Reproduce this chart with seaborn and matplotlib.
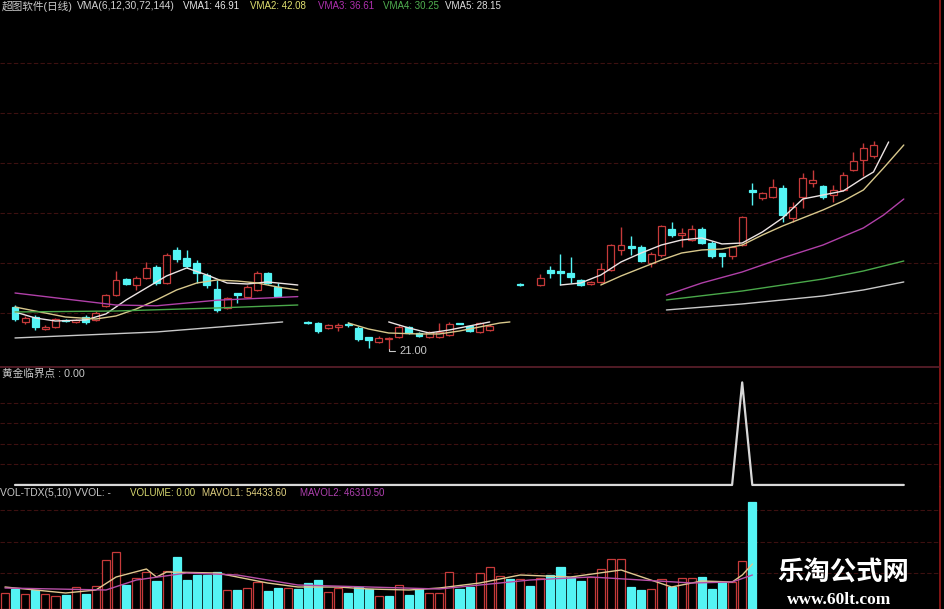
import numpy as np
import pandas as pd
import matplotlib
matplotlib.use("Agg")
import matplotlib.pyplot as plt
import seaborn as sns

nan = np.nan

# ---- price panel: candles (index = trading day slot on the chart) ----
candle_idx = list(range(0, 27)) + list(range(29, 48)) + [50] + list(range(52, 86))

opens = [26.25, 24.375, 25.0, 23.5, 23.75, 24.625, 24.375, 25.0, 24.625, 26.375,
         27.75, 29.75, 29.0, 29.875, 31.25, 29.25, 33.375, 32.375, 31.75, 30.25,
         28.5, 26.125, 28.0, 27.5, 28.375, 30.5, 28.75,
         24.375, 24.25, 23.625, 23.75, 24.125, 23.625, 22.5, 21.875, 22.3, 22.5,
         23.75, 23.0, 22.5, 22.5, 22.75, 24.25, 23.875, 23.125, 23.375,
         29.125,
         29.0, 30.875, 30.75, 30.5, 29.625, 29.125, 29.375, 30.875, 33.375, 33.875,
         33.75, 31.75, 32.75, 36.0, 35.25, 34.625, 36.0, 34.25, 33.0, 32.625,
         34.0, 40.875, 39.875, 40.0, 41.125, 37.375, 40.0, 41.75, 41.375, 40.25,
         40.875, 43.375, 44.625, 45.125]
highs = [26.5, 25.125, 25.25, 24.0, 24.875, 24.75, 24.75, 25.25, 25.75, 27.875,
         30.75, 29.875, 30.125, 31.875, 31.5, 33.0, 33.75, 33.375, 32.125, 30.5,
         29.625, 27.5, 28.0, 29.0, 30.75, 30.625, 29.25,
         24.5, 24.375, 24.125, 24.25, 24.375, 23.875, 22.5, 22.625, 22.5, 24.0,
         23.875, 23.125, 23.25, 24.25, 24.375, 24.3, 24.0, 24.375, 24.125,
         29.2,
         30.375, 31.375, 32.875, 32.5, 29.75, 29.5, 31.75, 34.125, 36.25, 35.125,
         34.0, 33.125, 36.5, 36.875, 36.125, 36.5, 36.25, 34.5, 33.0, 33.875,
         37.625, 41.75, 40.625, 42.25, 41.5, 39.375, 43.0, 43.375, 41.5, 41.5,
         43.125, 45.625, 46.75, 47.0]
lows = [24.5, 24.125, 23.375, 23.375, 23.625, 24.375, 24.25, 24.125, 24.5, 26.25,
        27.625, 29.0, 28.375, 29.75, 29.0, 29.125, 31.875, 31.125, 29.25, 28.625,
        25.625, 26.0, 26.75, 27.375, 28.25, 29.125, 27.5,
        24.125, 23.0, 23.5, 23.25, 23.75, 22.0, 21.125, 21.75, 21.0, 22.375,
        22.875, 22.5, 22.375, 22.375, 22.625, 24.1, 23.125, 23.0, 23.25,
        28.875,
        28.875, 29.875, 29.0, 29.25, 28.875, 29.0, 29.25, 30.75, 32.75, 32.75,
        31.875, 31.25, 32.5, 35.0, 33.75, 34.5, 34.125, 32.375, 31.25, 32.25,
        33.875, 39.0, 39.625, 39.875, 36.875, 36.875, 38.625, 41.25, 39.75, 39.375,
        40.75, 43.25, 42.625, 44.875]
closes = [24.75, 24.875, 23.75, 23.75, 24.75, 24.5, 24.625, 24.375, 25.5, 27.75,
          29.625, 29.125, 29.875, 31.125, 29.25, 32.75, 32.25, 31.375, 30.5, 29.0,
          25.875, 27.375, 27.75, 28.75, 30.5, 29.25, 27.625,
          24.25, 23.25, 24.0, 24.0, 24.0, 22.25, 22.125, 22.375, 22.375, 23.75,
          23.0, 22.625, 23.125, 23.125, 24.125, 24.125, 23.25, 24.25, 23.875,
          29.0,
          29.875, 30.5, 30.5, 30.0, 29.0, 29.375, 31.0, 34.0, 34.0, 33.625,
          32.0, 32.875, 36.375, 35.25, 35.5, 36.0, 34.25, 32.625, 32.625, 33.75,
          37.5, 40.625, 40.5, 41.25, 37.75, 38.75, 42.375, 42.125, 40.0, 40.875,
          42.75, 44.5, 46.125, 46.5]

# moving averages (NaN splits the line into pieces)
ma1_i = [0, 2, 4, 7, 9, 11, 13, 15, 17, 19, 21, 23, 25, 28, nan,
         37, 39, 41, 43, 45, 47, nan,
         54, 56, 58, 60, 62, 64, 66, 68, 70, 72, 74, 76, 78, 80, 82, 84, 85, 86.5]
ma1_v = [25.63, 24.88, 24.5, 24.63, 25.38, 27.13, 28.63, 30.13, 31.13, 30.25, 29.25, 29.13, 29.38, 29.0, nan,
         24.38, 23.63, 23.0, 23.38, 23.88, 24.38, nan,
         29.0, 29.25, 30.25, 31.88, 33.0, 34.0, 34.63, 34.88, 34.13, 34.25, 35.63, 37.38, 39.75, 40.25, 40.75, 42.38, 43.13, 46.88]
ma2_i = [0, 3, 5, 8, 10, 12, 14, 16, 18, 20, 22, 24, 26, 28, nan,
         33, 35, 37, 40, 42, 44, 46, 48, 49, nan,
         58, 60, 62, 64, 66, 68, 70, 72, 74, 76, 78, 80, 82, 84, 86, 88]
ma2_v = [26.25, 25.5, 25.0, 24.75, 25.13, 26.0, 27.13, 28.38, 29.25, 29.63, 29.5, 29.25, 28.75, 28.38, nan,
         24.25, 23.5, 23.0, 22.88, 22.88, 23.25, 23.75, 24.25, 24.38, nan,
         29.0, 30.13, 31.13, 32.13, 33.0, 33.38, 33.5, 34.0, 35.25, 36.38, 37.38, 38.38, 39.5, 40.88, 43.63, 46.5]
ma3_i = [0, 10, 14, 20, 28, nan, 64.5, 68, 72, 76, 80, 84, 86, 88]
ma3_v = [28.0, 26.5, 26.4, 27.1, 27.55, nan, 27.75, 29.25, 30.63, 32.38, 34.0, 36.13, 37.75, 39.75]
ma4_i = [0, 10, 20, 28, nan, 64.5, 72, 80, 84, 88]
ma4_v = [25.63, 25.75, 26.13, 26.5, nan, 27.13, 28.25, 29.75, 30.75, 32.0]
ma5_i = [0, 14, 26.5, nan, 64.5, 72, 80, 84, 88]
ma5_v = [22.38, 23.13, 24.38, nan, 25.88, 26.63, 27.63, 28.38, 29.38]

price_grid = [25.5, 31.75, 38.0, 44.25, 50.5, 56.75]
low_label = "21.00"
low_idx = 37

# ---- indicator panel ----
sig_i = [0, 71, 72, 73, 88]
sig_v = [0, 0, 1, 0, 0]
sig_grid = [0.2, 0.4, 0.6, 0.8]

# ---- volume panel ----
vol = [32000, 40000, 30000, 38000, 30000, 26000, 28000, 44000, 30000, 46000,
       98000, 114000, 48000, 62000, 74000, 56000, 76000, 104000, 58000, 68000,
       68000, 74000, 38000, 38000, 42000, 54000, 36000, 42000, 42000, 40000,
       52000, 58000, 34000, 42000, 32000, 44000, 40000, 26000, 26000, 48000,
       28000, 40000, 32000, 32000, 74000, 40000, 44000, 72000, 84000, 66000,
       60000, 60000, 46000, 62000, 68000, 84000, 64000, 56000, 64000, 80000,
       100000, 100000, 44000, 38000, 40000, 60000, 44000, 62000, 62000, 64000,
       40000, 54000, 54000, 96000, 214000]
vol_dir = list("rcrcrrcrcr" "rrcrrcrccc" "ccrcrrccrc" "ccrrcccrcr"
               "ccrrrccrrr" "crcrccccrr" "rrccrrcrrc" "ccrrc")
mavol1_j = [0, 3, 6, 9, 11, 14, 15, 16, 21, 23, 26, 29, 33, 36, 40, 43, 47, 51, 56, 61, 66, 69, 72, 73, 74]
mavol1_v = [44000, 38000, 32000, 38000, 64000, 80000, 64000, 74000, 72000, 64000, 52000, 44000, 44000,
            40000, 38000, 42000, 52000, 68000, 64000, 78000, 44000, 56000, 54000, 68000, 90000]
mavol2_j = [0, 10, 13, 18, 23, 26, 29, 36, 43, 47, 52, 58, 63, 68, 72, 74]
mavol2_v = [42000, 38000, 58000, 72000, 68000, 58000, 48000, 44000, 40000, 48000, 58000, 64000,
            58000, 52000, 54000, 68000]
vol_grid = [72000, 134000, 198000]

RED = "#c63a3a"
CYAN = "#54f4f4"
GRID = "#3c1010"
BORDER = "#9a1a1a"
ma_colors = {"VMA1": "#ece4e4", "VMA2": "#d8c88c", "VMA3": "#b040a8", "VMA4": "#4aa84a", "VMA5": "#c8c8c8"}

sns.set_theme(style="dark", rc={"axes.facecolor": "black", "figure.facecolor": "black"})
plt.rcParams["font.family"] = ["Liberation Sans", "Noto Sans CJK SC", "DejaVu Sans"]

W, H = 945, 609
fig = plt.figure(figsize=(W / 100, H / 100), dpi=100)


def px_axes(x0, y0, x1, y1):
    return fig.add_axes([x0 / W, 1 - y1 / H, (x1 - x0) / W, (y1 - y0) / H])


ax = px_axes(0, 0, 940, 367)
ax_sig = px_axes(0, 367, 940, 487)
ax_vol = px_axes(0, 487, 940, 609)

# candles
df = pd.DataFrame({"i": candle_idx, "o": opens, "h": highs, "l": lows, "c": closes})
up = (df["c"] >= df["o"]).to_numpy()
ax.vlines(df["i"], df["l"], df["h"], colors=np.where(up, RED, CYAN), lw=1.0, zorder=2)
ax.bar(df["i"], (df["c"] - df["o"]).abs(), bottom=np.minimum(df["o"], df["c"]), width=0.68,
       color=np.where(up, "black", CYAN), edgecolor=np.where(up, RED, CYAN), linewidth=0.9, zorder=3)

frames = []
for name, xs, vs in [("VMA1", ma1_i, ma1_v), ("VMA2", ma2_i, ma2_v), ("VMA3", ma3_i, ma3_v),
                     ("VMA4", ma4_i, ma4_v), ("VMA5", ma5_i, ma5_v)]:
    d = pd.DataFrame({"i": xs, "v": vs})
    d["seg"] = d["v"].isna().cumsum()
    d = d.dropna()
    d["ma"] = name
    d["unit"] = name + d["seg"].astype(str)
    frames.append(d)
ma_df = pd.concat(frames, ignore_index=True)
sns.lineplot(data=ma_df, x="i", y="v", hue="ma", units="unit", estimator=None, sort=False,
             palette=ma_colors, linewidth=1.0, legend=False, ax=ax, zorder=4)

low_val = df.loc[df["i"] == low_idx, "l"].iloc[0]
ax.annotate(low_label, xy=(low_idx, low_val), xytext=(low_idx + 1.1, low_val - 0.2),
            color="#c8c8c8", fontsize=8, ha="left", va="center",
            arrowprops=dict(arrowstyle="-", color="#c8c8c8", lw=0.8,
                            connectionstyle="angle,angleA=0,angleB=90,rad=0", shrinkA=1, shrinkB=0))

ax.set_xlim(-15 / 10.1, 925 / 10.1)
ax.set_ylim(18.75, 64.625)
ax.set_yticks(price_grid)

# indicator
sns.lineplot(x=sig_i, y=sig_v, ax=ax_sig, color="#d8d8d8", linewidth=1.6)
ax_sig.set_xlim(-15 / 10.1, 925 / 10.1)
ax_sig.set_ylim(-0.02, 1.15)
ax_sig.set_yticks(sig_grid)

# volume
vol_j = np.arange(len(vol))
vol_up = np.array(vol_dir) == "r"
ax_vol.bar(vol_j, vol, width=0.8, color=np.where(vol_up, "black", CYAN),
           edgecolor=np.where(vol_up, RED, CYAN), linewidth=0.9, zorder=3)
sns.lineplot(x=mavol1_j, y=mavol1_v, ax=ax_vol, color="#e0c890", linewidth=1.0, zorder=4)
sns.lineplot(x=mavol2_j, y=mavol2_v, ax=ax_vol, color="#b850a8", linewidth=1.0, zorder=4)
ax_vol.set_xlim(-5 / 10.1, 935 / 10.1)
ax_vol.set_ylim(0, 244000)
ax_vol.set_yticks(vol_grid)

for a in (ax, ax_sig, ax_vol):
    a.set_facecolor("black")
    a.set_xlabel("")
    a.set_ylabel("")
    a.set_xticks([])
    a.tick_params(left=False, bottom=False, labelleft=False, labelbottom=False)
    a.yaxis.grid(True, color=GRID, linestyle=(0, (4, 2)), linewidth=0.8)
    a.xaxis.grid(False)
    a.set_axisbelow(True)
    for s in a.spines.values():
        s.set_visible(False)
    a.spines["right"].set_visible(True)
    a.spines["right"].set_color(BORDER)
    a.spines["right"].set_linewidth(1.2)
ax_sig.spines["top"].set_visible(True)
ax_sig.spines["top"].set_color("#5a1e2a")


def label(x, y, s, color, size=7.0, **kw):
    fig.text(x / W, 1 - y / H, s, color=color, fontsize=size, ha="left", va="center", **kw)


label(2, 6, "超图软件(日线)", "#c8c8c8", size=7.7)
label(77, 6, "VMA(6,12,30,72,144)", "#d0d0d0", size=7.4)
label(183, 6, "VMA1: 46.91", "#e8e8e8")
label(250, 6, "VMA2: 42.08", "#e0e070")
label(318, 6, "VMA3: 36.61", "#b030b0")
label(383, 6, "VMA4: 30.25", "#50b050")
label(445, 6, "VMA5: 28.15", "#e0e0e0")

label(2, 374, "黄金临界点 : 0.00", "#c8c8c8", size=7.7)

label(0, 493, "VOL-TDX(5,10) VVOL: -", "#c8c8c8", size=7.4)
label(130, 493, "VOLUME: 0.00", "#d8d870")
label(202, 493, "MAVOL1: 54433.60", "#e0d080")
label(300, 493, "MAVOL2: 46310.50", "#b040b0")

# watermark
fig.text(843 / W, 1 - 572 / H, "乐淘公式网", color="white", fontsize=19, fontweight="bold",
         ha="center", va="center", family=["Noto Sans CJK SC"])
fig.text(839 / W, 1 - 600 / H, "www.60lt.com", color="white", fontsize=12.5, fontweight="bold",
         ha="center", va="center", family=["Liberation Serif"])

fig.savefig("out.png", dpi=100, facecolor="black")
